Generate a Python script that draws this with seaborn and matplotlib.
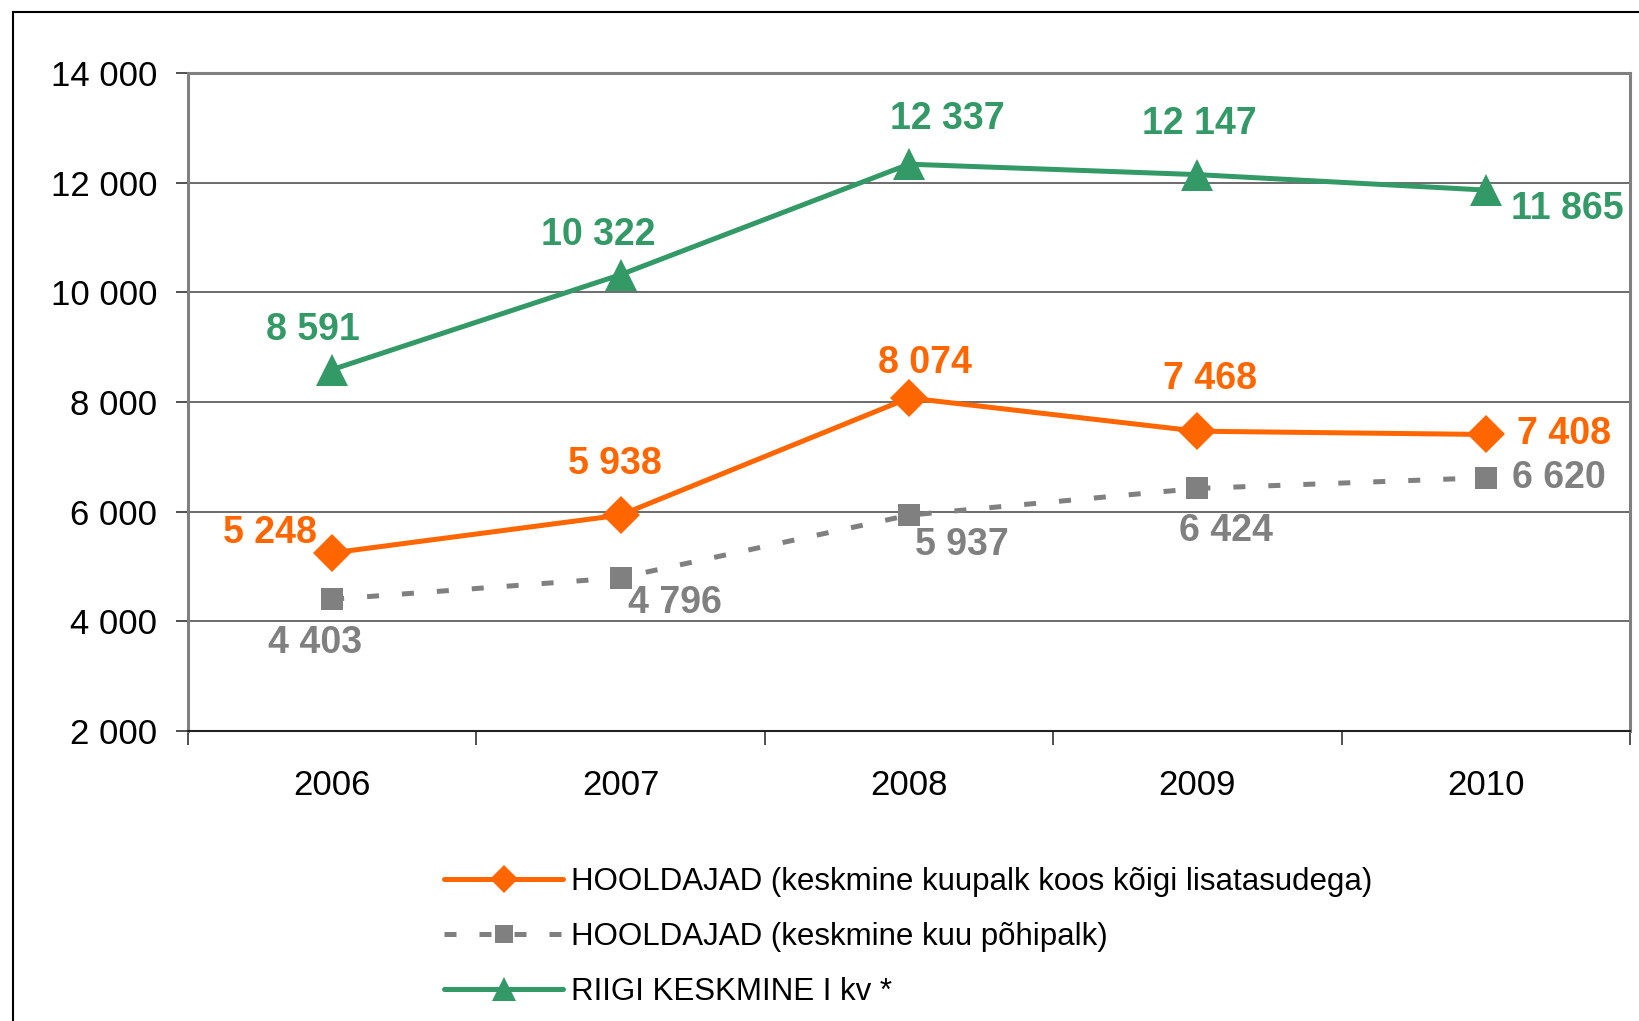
import matplotlib
matplotlib.use("Agg")
import matplotlib.pyplot as plt
import pandas as pd
import seaborn as sns
from matplotlib.lines import Line2D
from matplotlib.patches import Rectangle

years = ["2006", "2007", "2008", "2009", "2010"]
koos_lisatasudega = [5248, 5938, 8074, 7468, 7408]
pohipalk = [4403, 4796, 5937, 6424, 6620]
riigi_keskmine = [8591, 10322, 12337, 12147, 11865]

label_koos = "HOOLDAJAD (keskmine kuupalk koos kõigi lisatasudega)"
label_pohi = "HOOLDAJAD (keskmine kuu põhipalk)"
label_riik = "RIIGI KESKMINE I kv *"

ORANGE = "#FF6600"
GREY = "#808080"
GREEN = "#339966"

sns.set_style("white")
plt.rcParams["font.family"] = ["Liberation Sans", "DejaVu Sans"]

fig = plt.figure(figsize=(16.4, 10.21), dpi=100)
ax = fig.add_axes([0.1146, 0.284, 0.8793, 0.6445])

pos = list(range(len(years)))
df = pd.DataFrame({"pos": pos, "koos": koos_lisatasudega,
                   "pohi": pohipalk, "riik": riigi_keskmine})

sns.lineplot(data=df, x="pos", y="pohi", ax=ax, color=GREY, lw=3.6,
             marker="s", markersize=16.5, markeredgewidth=0,
             linestyle=(0, (2.4, 4.6)), zorder=3)
sns.lineplot(data=df, x="pos", y="koos", ax=ax, color=ORANGE, lw=3.6,
             marker="D", markersize=19, markeredgewidth=0, zorder=4)
sns.lineplot(data=df, x="pos", y="riik", ax=ax, color=GREEN, lw=3.6,
             marker="^", markersize=23, markeredgewidth=0, zorder=5)

ax.set_xlim(-0.5, 4.5)
ax.set_ylim(2000, 14000)
ax.set_xlabel("")
ax.set_ylabel("")

def fmt(v):
    return f"{v:,}".replace(",", " ")

# y ticks / grid
yt = list(range(2000, 14001, 2000))
ax.set_yticks(yt)
ax.set_yticklabels([fmt(v) for v in yt], fontsize=25, color="black")
ax.tick_params(axis="y", length=9, width=1.2, color="#333333", pad=13, left=True)
ax.yaxis.grid(True, color="#444444", lw=1.1)
ax.xaxis.grid(False)

# x ticks at boundaries, labels at centres
ax.set_xticks([-0.5, 0.5, 1.5, 2.5, 3.5, 4.5])
ax.set_xticklabels([])
ax.set_xticks(pos, minor=True)
ax.set_xticklabels(years, minor=True, fontsize=25, color="black")
ax.tick_params(axis="x", which="major", length=10, width=1.2, color="#333333",
               bottom=True)
ax.tick_params(axis="x", which="minor", length=0, pad=27)

for side in ["left", "top", "right"]:
    ax.spines[side].set_color(GREY)
    ax.spines[side].set_linewidth(2.2)
ax.spines["bottom"].set_color("#222222")
ax.spines["bottom"].set_linewidth(1.5)

# data labels: offsets in pixels
off_riik = [(-19, 40), (-22, 40), (38, 45), (2, 51), (82, -19)]
off_koos = [(-62, 20), (-6, 51), (16, 35), (13, 52), (78, 0)]
off_pohi = [(-17, -44), (54, -25), (53, -30), (29, -43), (73, 0)]

for vals, offs, col in [(riigi_keskmine, off_riik, GREEN),
                        (koos_lisatasudega, off_koos, ORANGE),
                        (pohipalk, off_pohi, GREY)]:
    for p, v, o in zip(pos, vals, offs):
        ax.annotate(fmt(v), (p, v), xytext=o, textcoords="offset pixels",
                    ha="center", va="center", fontsize=27, fontweight="bold",
                    color=col, zorder=6)

# legend
handles = [
    Line2D([], [], color=ORANGE, lw=3.6, marker="D", markersize=14, markeredgewidth=0),
    Line2D([], [], color=GREY, lw=3.6, linestyle=(0, (2.4, 4.6)), marker="s",
           markersize=13, markeredgewidth=0),
    Line2D([], [], color=GREEN, lw=3.6, marker="^", markersize=17, markeredgewidth=0),
]
leg = fig.legend(handles, [label_koos, label_pohi, label_riik],
                 loc="upper left", frameon=False, fontsize=22.5,
                 handlelength=3.8, handletextpad=0.25, labelspacing=0.8,
                 borderaxespad=0, borderpad=0)
leg.set_bbox_to_anchor((0.271, 0.151), transform=fig.transFigure)
for t in leg.get_texts():
    t.set_color("black")

# outer slide frame (continues past right/bottom edges)
fig.patches.append(Rectangle((13 / 1640, -0.1), 1.2, 1 - 12 / 1021 + 0.1,
                             transform=fig.transFigure, fill=False,
                             edgecolor="black", lw=1.5, zorder=0))

fig.savefig("out.png", dpi=100)
